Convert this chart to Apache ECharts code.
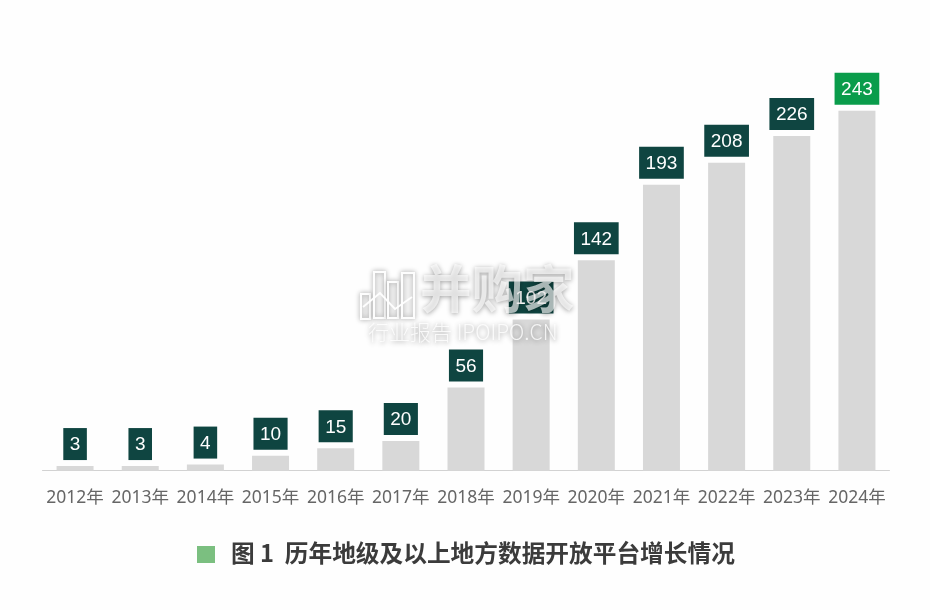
<!DOCTYPE html>
<html><head><meta charset="utf-8">
<style>html,body{margin:0;padding:0;background:#fff}#c{width:930px;height:610px}</style>
<script src="https://cdn.jsdelivr.net/npm/echarts@6/dist/echarts.min.js"></script>
</head><body><div id="c"></div>
<script>
const categories = ['2012年','2013年','2014年','2015年','2016年','2017年','2018年','2019年','2020年','2021年','2022年','2023年','2024年'];
const platforms = [3,3,4,10,15,20,56,102,142,193,208,226,243];
const highlightYear = '2024年';
const titleText = '图 1  历年地级及以上地方数据开放平台增长情况';
const watermarkMain = '并购家';
const watermarkSub = '行业报告 IPOIPO.CN';

const chart = echarts.init(document.getElementById('c'), null, {renderer:'canvas'});
const wmShadow = {shadowBlur:5, shadowColor:'rgba(0,0,0,0.45)'};
const wmTextShadow = {textShadowBlur:5, textShadowColor:'rgba(0,0,0,0.55)', textShadowOffsetX:0, textShadowOffsetY:1};
const iconBar = (x,y,w,h)=>({type:'rect',z:100,shape:{x,y,width:w,height:h},
  style:{fill:'rgba(255,255,255,0.12)',stroke:'rgba(255,255,255,0.95)',lineWidth:2,...wmShadow}});
chart.setOption({
  animation:false,
  backgroundColor:'#fefefe',
  grid:{left:42.5,right:40.5,top:100.5,height:370},
  xAxis:{type:'category',data:categories,
    axisLine:{lineStyle:{color:'#d2d2d2',width:1}},axisTick:{show:false},
    axisLabel:{color:'#666666',fontSize:17.5,margin:19,interval:0,fontFamily:'"Noto Sans","Noto Sans CJK SC",sans-serif'}},
  yAxis:{type:'value',min:0,max:250,show:false},
  series:[{type:'bar',barWidth:37,
    itemStyle:{color:'#d8d8d8'},
    data:platforms.map((v,i)=>({value:v,label:{backgroundColor:categories[i]===highlightYear?'#0a9c4b':'#0f4541'}})),
    label:{show:true,position:'top',distance:6,color:'#fff',fontSize:19,lineHeight:18,
      padding:[8,6.5,6,6.5],fontFamily:'"Liberation Sans",Arial,sans-serif'}}],
  graphic:[
    {type:'rect',shape:{x:197,y:546,width:18,height:17},style:{fill:'#7bbf80'}},
    {type:'text',x:231,y:541,style:{text:titleText,fill:'#3b3b3b',font:'bold 23.7px "Noto Sans CJK SC"'}},
    iconBar(361,294,9,25),iconBar(374,272,11,46),iconBar(388,282,10,36),iconBar(402,273,12,45),
    {type:'polyline',z:100,shape:{points:[[363,307],[380,293],[395,309],[412,297]]},
      style:{fill:null,stroke:'rgba(255,255,255,0.95)',lineWidth:2}},
    {type:'text',z:100,x:420,y:263,style:{text:watermarkMain,fill:'rgba(255,255,255,0.65)',font:'bold 51.5px "Noto Sans CJK SC"',...wmTextShadow}},
    {type:'text',z:100,x:368,y:322,style:{text:watermarkSub,fill:'rgba(255,255,255,0.8)',font:'300 21px "Noto Sans CJK SC"',...wmTextShadow}}
  ]
});
</script></body></html>
